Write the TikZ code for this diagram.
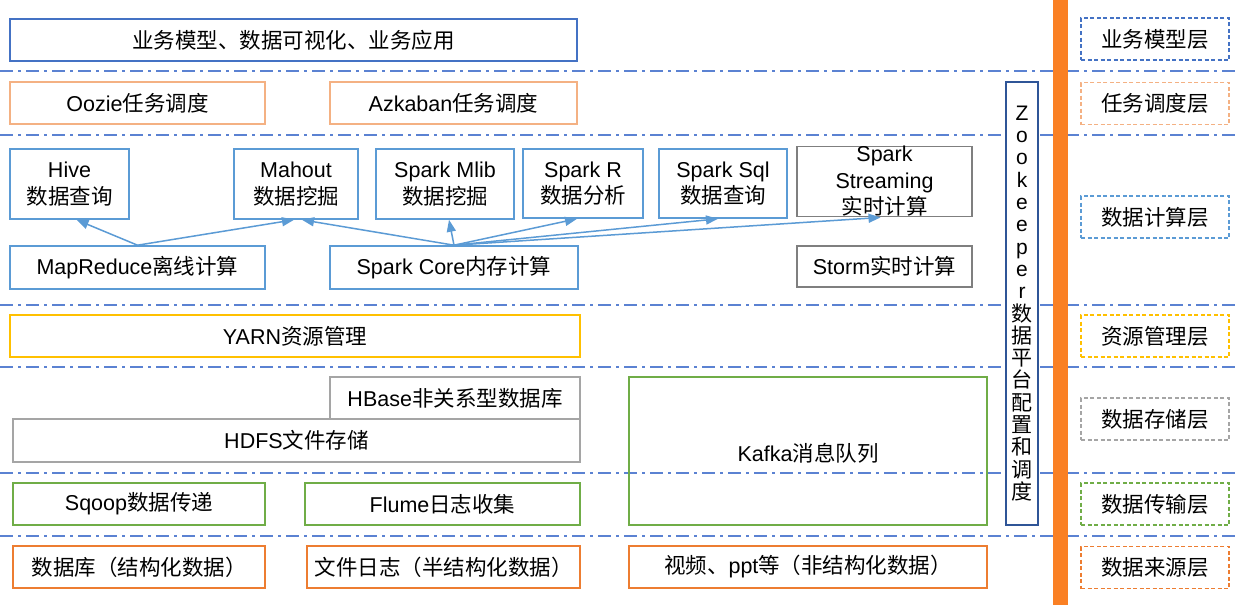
\documentclass[tikz,border=0pt]{standalone}
\usepackage{fontspec}
\setmainfont{Liberation Sans}
\newfontfamily\zh{Noto Sans CJK SC}
\usetikzlibrary{arrows.meta}
\definecolor{bizblue}{HTML}{4472C4}
\definecolor{taskorange}{HTML}{F4B183}
\definecolor{compblue}{HTML}{5B9BD5}
\definecolor{darkgray}{HTML}{7F7F7F}
\definecolor{yarngold}{HTML}{FFC000}
\definecolor{storgray}{HTML}{A5A5A5}
\definecolor{transgreen}{HTML}{70AD47}
\definecolor{srcorange}{HTML}{ED7D31}
\definecolor{zkblue}{HTML}{2F5597}
\definecolor{barorange}{RGB}{250,128,36}
\definecolor{sepblue}{RGB}{91,130,210}
\newcommand\zz[1]{{\zh #1}}
\begin{document}
\begin{tikzpicture}[x=1pt,y=-1pt,
  every node/.style={font=\fontsize{21.5}{26.5}\selectfont, inner sep=0pt, text=black},
  box/.style={draw, line width=1.6pt, fill=white, align=center},
  lbl/.style={draw, dash pattern=on 4pt off 2.5pt, line width=1.5pt, minimum width=148pt, minimum height=42pt, fill=white},
  sep/.style={draw=sepblue, line width=2pt, dash pattern=on 13pt off 5pt on 3pt off 5pt},
  arr/.style={draw=compblue, line width=1.5pt, -{Triangle[length=12pt,width=9pt]}}
]
\useasboundingbox (0,0) rectangle (1238,605);
\fill[white] (0,0) rectangle (1238,605);
% separators
\foreach \yy in {71,135,305,367,473,536} { \draw[sep] (0,\yy) -- (1238,\yy); }
% business layer
\node[box, draw=bizblue, minimum width=567pt, minimum height=42pt] (top) at (293.5,40) {\zz{业务模型、数据可视化、业务应用}};
% scheduling
\node[box, draw=taskorange, minimum width=255pt, minimum height=42pt] (oozie) at (137.5,103) {Oozie\zz{任务调度}};
\node[box, draw=taskorange, minimum width=247pt, minimum height=42pt] (azk) at (453.5,103) {Azkaban\zz{任务调度}};
% compute
\node[box, draw=compblue, minimum width=119pt, minimum height=70pt] (hive) at (69.5,184) {Hive\\\zz{数据查询}};
\node[box, draw=compblue, minimum width=124pt, minimum height=70pt] (mahout) at (296,184) {Mahout\\\zz{数据挖掘}};
\node[box, draw=compblue, minimum width=138pt, minimum height=70pt] (mlib) at (445,184) {Spark Mlib\\\zz{数据挖掘}};
\node[box, draw=compblue, minimum width=120pt, minimum height=69pt] (sparkr) at (583,183.5) {Spark R\\\zz{数据分析}};
\node[box, draw=compblue, minimum width=128pt, minimum height=69pt] (sql) at (723,183.5) {Spark Sql\\\zz{数据查询}};
\node[box, draw=darkgray, minimum width=175pt, minimum height=69pt] (streaming) at (884.5,181.5) {Spark\\Streaming\\\zz{实时计算}};
\node[box, draw=compblue, minimum width=255pt, minimum height=43pt] (mr) at (137.5,267.5) {MapReduce\zz{离线计算}};
\node[box, draw=compblue, minimum width=248pt, minimum height=43pt] (core) at (454,267.5) {Spark Core\zz{内存计算}};
\node[box, draw=darkgray, minimum width=175pt, minimum height=41pt] (storm) at (884.5,266.5) {Storm\zz{实时计算}};
\draw[arr] (mr.north) -- ([xshift=7pt]hive.south);
\draw[arr] (mr.north) -- ([xshift=-2pt]mahout.south);
\draw[arr] (core.north) -- ([xshift=6pt]mahout.south);
\draw[arr] (core.north) -- ([xshift=4pt]mlib.south);
\draw[arr] (core.north) -- ([xshift=-6pt]sparkr.south);
\draw[arr] (core.north) -- ([xshift=-5pt]sql.south);
\draw[arr] (core.north) -- ([xshift=-4pt]streaming.south);
% resource
\node[box, draw=yarngold, minimum width=570pt, minimum height=42pt] (yarn) at (295,336) {YARN\zz{资源管理}};
% storage
\node[box, draw=storgray, minimum width=250pt, minimum height=42pt] (hbase) at (455,398) {HBase\zz{非关系型数据库}};
\node[box, draw=storgray, minimum width=567pt, minimum height=43pt] (hdfs) at (296.5,440.5) {HDFS\zz{文件存储}};
\node[draw=transgreen, line width=1.6pt, minimum width=358pt, minimum height=148pt] (kafka) at (808,451) {};
\node at (808,453) {Kafka\zz{消息队列}};
% transfer
\node[box, draw=transgreen, minimum width=252pt, minimum height=42pt] (sqoop) at (139,504) {Sqoop\zz{数据传递}};
\node[box, draw=transgreen, minimum width=275pt, minimum height=42pt] (flume) at (442.5,504) {Flume\zz{日志收集}};
% source
\node[box, draw=srcorange, minimum width=252pt, minimum height=42pt] (db) at (139,567) {\zz{数据库（结构化数据）}};
\node[box, draw=srcorange, minimum width=273pt, minimum height=42pt] (file) at (443.5,567) {\zz{文件日志（半结构化数据）}};
\node[box, draw=srcorange, minimum width=358pt, minimum height=42pt] (video) at (808,567) {\zz{视频、}ppt\zz{等（非结构化数据）}};
% zookeeper
\node[box, draw=zkblue, line width=1.8pt, minimum width=32pt, minimum height=443pt, font=\fontsize{21}{22.3}\selectfont] (zk) at (1022,303.5) {Z\\o\\o\\k\\e\\e\\p\\e\\r\\\zz{数}\\\zz{据}\\\zz{平}\\\zz{台}\\\zz{配}\\\zz{置}\\\zz{和}\\\zz{调}\\\zz{度}};
% orange bar
\fill[barorange] (1053,0) rectangle (1068,605);
% layer labels
\node[lbl, draw=bizblue] (l1) at (1155,39) {\zz{业务模型层}};
\node[lbl, draw=taskorange] (l2) at (1155,103.5) {\zz{任务调度层}};
\node[lbl, draw=compblue] (l3) at (1155,217) {\zz{数据计算层}};
\node[lbl, draw=yarngold] (l4) at (1155,336) {\zz{资源管理层}};
\node[lbl, draw=storgray] (l5) at (1155,419) {\zz{数据存储层}};
\node[lbl, draw=transgreen] (l6) at (1155,504) {\zz{数据传输层}};
\node[lbl, draw=srcorange] (l7) at (1155,567.5) {\zz{数据来源层}};
\end{tikzpicture}
\end{document}
